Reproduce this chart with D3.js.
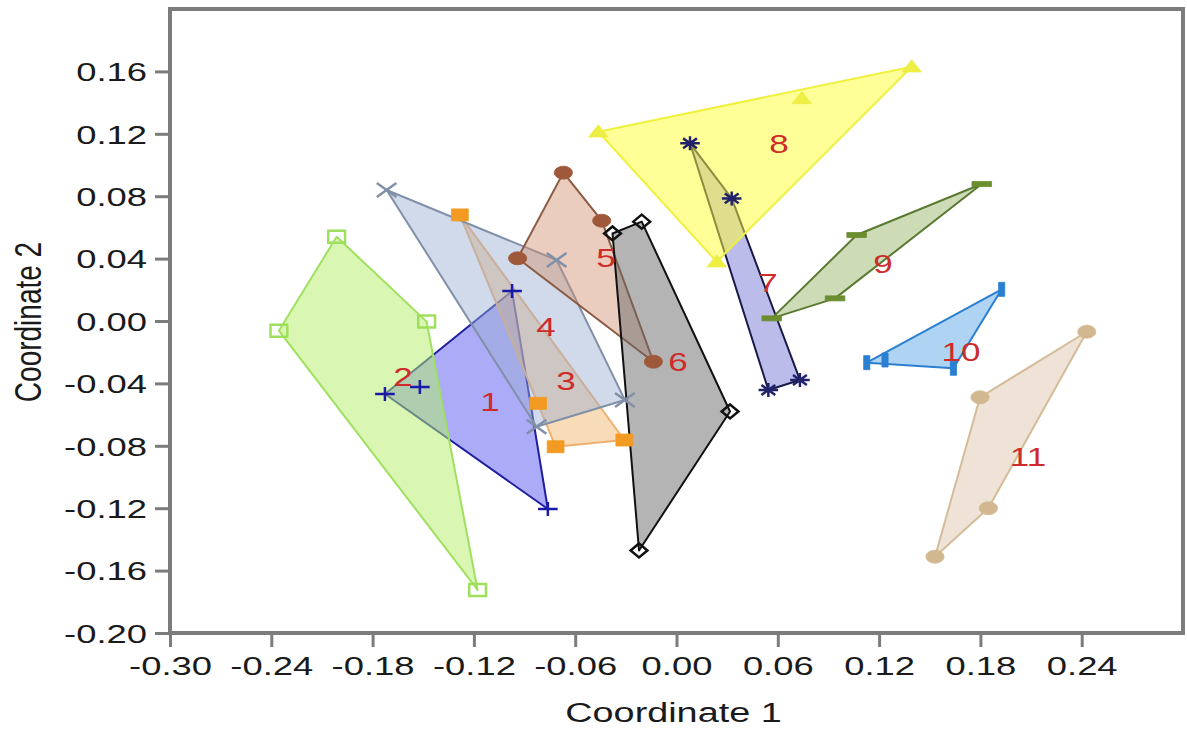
<!DOCTYPE html>
<html>
<head>
<meta charset="utf-8">
<script src="https://cdn.jsdelivr.net/npm/d3@7"></script>
<style>
  html, body { margin: 0; padding: 0; background: #ffffff; }
  svg { display: block; }
  text { font-family: "Liberation Sans", Arial, sans-serif; }
</style>
</head>
<body>
<svg id="chart" width="1187" height="729"></svg>
<script>
// ---------- DATA ----------
const groupNames = ["1","2","3","4","5","6","7","8","9","10","11"];

const g1 = [[-0.0974, 0.0192], [-0.1727, -0.0468], [-0.1520, -0.0423], [-0.0762, -0.1205]];
const g2 = [[-0.2013, 0.0540], [-0.2355, -0.0062], [-0.1480, -0.0004], [-0.1178, -0.1724]];
const g3 = [[-0.1283, 0.0680], [-0.0820, -0.0528], [-0.0716, -0.0806], [-0.0309, -0.0763]];
const g4 = [[-0.1717, 0.0840], [-0.0710, 0.0391], [-0.0306, -0.0506], [-0.0829, -0.0678]];
const g5 = [[-0.0670, 0.0951], [-0.0443, 0.0643], [-0.0941, 0.0402], [-0.0137, -0.0261]];
const g6 = [[-0.0379, 0.0561], [-0.0206, 0.0637], [0.0317, -0.0580], [-0.0222, -0.1471]];
const g7 = [[0.0080, 0.1139], [0.0327, 0.0786], [0.0731, -0.0378], [0.0544, -0.0442]];
const g8 = [[-0.0463, 0.1213], [0.1393, 0.1630], [0.0742, 0.1427], [0.0238, 0.0380]];
const g9 = [[0.1808, 0.0878], [0.1067, 0.0551], [0.0939, 0.0145], [0.0564, 0.0017]];
const g10 = [[0.1926, 0.0203], [0.1127, -0.0267], [0.1235, -0.0250], [0.1640, -0.0303]];
const g11 = [[0.2430, -0.0069], [0.1798, -0.0489], [0.1847, -0.1200], [0.1531, -0.1511]];
const groupPoints = [g1, g2, g3, g4, g5, g6, g7, g8, g9, g10, g11];

// group label anchor positions (data coordinates)
const labelX = [-0.1105, -0.1620, -0.0655, -0.0773, -0.0418, 0.0009, 0.0542, 0.0607, 0.1223, 0.1685, 0.2082];
const labelY = [-0.0519, -0.0359, -0.0385, -0.0038, 0.0404, -0.0263, 0.0244, 0.1134, 0.0365, -0.0199, -0.0872];

const xTicks = [-0.30, -0.24, -0.18, -0.12, -0.06, 0.00, 0.06, 0.12, 0.18, 0.24];
const yTicks = [0.16, 0.12, 0.08, 0.04, 0.00, -0.04, -0.08, -0.12, -0.16, -0.20];
const xTitle = "Coordinate 1";
const yTitle = "Coordinate 2";

// ---------- STYLE ----------
const styles = [
  { fill: "#5858f0", fo: 0.5,  stroke: "#1f1fa0", mk: "plus",    mc: "#1a1aa8" },
  { fill: "#b4f068", fo: 0.5,  stroke: "#a0e060", mk: "square2", mc: "#9ee05c" },
  { fill: "#f0b060", fo: 0.45, stroke: "#eeb070", mk: "square",  mc: "#f29a22" },
  { fill: "#98aed0", fo: 0.45, stroke: "#8090a8", mk: "times",   mc: "#8090a8" },
  { fill: "#d09070", fo: 0.45, stroke: "#8b5a40", mk: "circle",  mc: "#a0583a" },
  { fill: "#6a6a6a", fo: 0.5,  stroke: "#111111", mk: "diamond2",mc: "#111111" },
  { fill: "#6a6ad0", fo: 0.45, stroke: "#1a1a4a", mk: "aster",   mc: "#22226a" },
  { fill: "#ffff30", fo: 0.5,  stroke: "#f0f040", mk: "triangle",mc: "#eeee44" },
  { fill: "#90b060", fo: 0.45, stroke: "#5a7a30", mk: "hbar",    mc: "#6b8e30" },
  { fill: "#60a8e8", fo: 0.5,  stroke: "#2a7fd0", mk: "vbar",    mc: "#2a7fd0" },
  { fill: "#e0c8b0", fo: 0.5,  stroke: "#d4bc98", mk: "circle",  mc: "#d2b890" }
];
const SX = 1.4; // horizontal stretch of the reference picture

// ---------- CHART ----------
const svg = d3.select("#chart");
const x = d3.scaleLinear().domain([-0.30, 0.30]).range([170, 1183]);
const y = d3.scaleLinear().domain([-0.20, 0.20]).range([633, 9]);

const plot = svg.append("g");

// polygons
groupPoints.forEach((pts, i) => {
  const px = pts.map(p => [x(p[0]), y(p[1])]);
  const hull = d3.polygonHull(px);
  plot.append("path")
    .attr("d", "M" + hull.map(p => p.join(",")).join("L") + "Z")
    .attr("fill", styles[i].fill)
    .attr("fill-opacity", styles[i].fo)
    .attr("stroke", styles[i].stroke)
    .attr("stroke-width", 2)
    .attr("stroke-linejoin", "round");
});

// marker shapes (unscaled; stretched horizontally by SX)
function markerPath(type) {
  const r = 7;
  switch (type) {
    case "plus": return `M${-r},0L${r},0M0,${-r}L0,${r}`;
    case "times": return `M${-r},${-r}L${r},${r}M${-r},${r}L${r},${-r}`;
    case "square2": case "square": return `M${-r+1},${-r+1}L${r-1},${-r+1}L${r-1},${r-1}L${-r+1},${r-1}Z`;
    case "diamond2": return `M0,${-r}L${r-1},0L0,${r}L${-r+1},0Z`;
    case "circle": return d3.arc()({innerRadius: 0, outerRadius: r - 0.5, startAngle: 0, endAngle: 2 * Math.PI});
    case "triangle": return `M0,${-r}L${r},${r*0.75}L${-r},${r*0.75}Z`;
    case "aster": {
      let d = "";
      for (let k = 0; k < 4; k++) {
        const a = k * Math.PI / 4;
        d += `M${-r*Math.cos(a)},${-r*Math.sin(a)}L${r*Math.cos(a)},${r*Math.sin(a)}`;
      }
      return d;
    }
    case "hbar": return `M${-r},-2.5L${r},-2.5L${r},2.5L${-r},2.5Z`;
    case "vbar": return `M-2.2,${-r}L2.2,${-r}L2.2,${r}L-2.2,${r}Z`;
  }
}
const strokeOnly = new Set(["plus", "times", "square2", "diamond2", "aster"]);

groupPoints.forEach((pts, i) => {
  const st = styles[i];
  plot.selectAll(null).data(pts).enter().append("path")
    .attr("transform", d => `translate(${x(d[0])},${y(d[1])}) scale(${SX},1)`)
    .attr("d", markerPath(st.mk))
    .attr("fill", strokeOnly.has(st.mk) ? "none" : st.mc)
    .attr("stroke", st.mc)
    .attr("stroke-width", strokeOnly.has(st.mk) ? 2.5 : 0.8)
    .attr("vector-effect", "non-scaling-stroke");
});

// group labels
plot.selectAll(null).data(groupNames).enter().append("text")
  .attr("transform", (d, i) => `translate(${x(labelX[i])},${y(labelY[i])}) scale(${SX},1)`)
  .attr("text-anchor", "middle")
  .attr("dy", "0.36em")
  .attr("font-size", 25)
  .attr("fill", "#cf2b2b")
  .text(d => d);

// frame
svg.append("rect")
  .attr("x", x(-0.30)).attr("y", y(0.20))
  .attr("width", x(0.30) - x(-0.30)).attr("height", y(-0.20) - y(0.20))
  .attr("fill", "none").attr("stroke", "#7c7c7c").attr("stroke-width", 4);

// axes
const fmt = d => d3.format(".2f")(d).replace("\u2212", "-");
const xAxis = svg.append("g").attr("transform", `translate(0,${y(-0.20)})`)
  .call(d3.axisBottom(x).tickValues(xTicks).tickFormat(fmt).tickSize(14).tickPadding(6));
const yAxis = svg.append("g").attr("transform", `translate(${x(-0.30)},0)`)
  .call(d3.axisLeft(y).tickValues(yTicks).tickFormat(fmt).tickSize(15).tickPadding(8));

[xAxis, yAxis].forEach(a => {
  a.select(".domain").remove();
  a.selectAll(".tick line").attr("stroke", "#7c7c7c").attr("stroke-width", 3);
  a.selectAll(".tick text")
    .attr("font-size", 26)
    .attr("fill", "#1a1a1a")
    .attr("font-family", "'Liberation Sans', Arial, sans-serif");
});
xAxis.selectAll(".tick text")
  .attr("y", 0).attr("dy", 0)
  .attr("transform", `translate(0,42) scale(${SX},1)`);
yAxis.selectAll(".tick text")
  .attr("x", 0).attr("dy", "0.36em")
  .attr("transform", `translate(-23,0) scale(${SX},1)`);

// axis titles
svg.append("text")
  .attr("transform", `translate(${(x(-0.30) + x(0.30)) / 2 - 3},722) scale(1.35,1)`)
  .attr("text-anchor", "middle")
  .attr("font-size", 28)
  .attr("fill", "#1a1a1a")
  .text(xTitle);
svg.append("text")
  .attr("transform", `translate(41,322) scale(1.35,1) rotate(-90)`)
  .attr("text-anchor", "middle")
  .attr("font-size", 28)
  .attr("fill", "#1a1a1a")
  .text(yTitle);
</script>
</body>
</html>
